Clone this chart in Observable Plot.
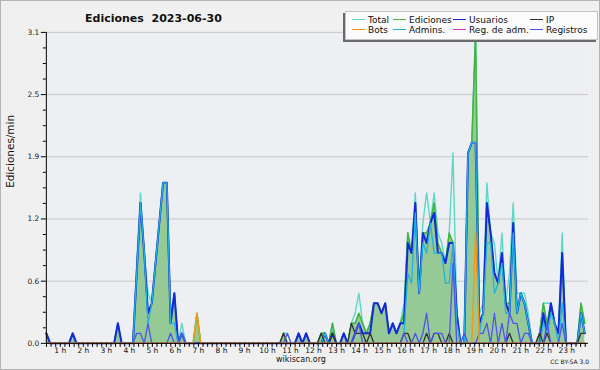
<!DOCTYPE html>
<html><head><meta charset="utf-8">
<script src="https://cdn.jsdelivr.net/npm/d3@7"></script>
<script src="https://cdn.jsdelivr.net/npm/@observablehq/plot@0.6"></script>
<style>
html,body{margin:0;padding:0;background:#f0f0f0;}
#wrap{position:relative;width:600px;height:370px;overflow:hidden;box-sizing:border-box;border:1px solid #b4b4b4;font-family:"DejaVu Sans",sans-serif;color:#111;}
#wrap svg{position:absolute;left:-1px;top:-1px;z-index:1;}
#title{position:absolute;left:84px;top:12px;font-size:11px;font-weight:bold;line-height:1;white-space:pre;z-index:2;}
#legend{position:absolute;left:344px;top:10px;width:251px;height:27px;background:#fbfbfb;border:1px solid #c4c4c4;box-shadow:-2px 2px 0 #6a6a6a;z-index:3;}
#legend .e{position:absolute;font-size:9px;line-height:10px;white-space:nowrap;}
#legend .s{display:inline-block;width:13px;height:0;border-top:1px solid;vertical-align:middle;margin-right:3px;position:relative;top:-1px;}
#site{position:absolute;left:0;width:600px;top:355px;text-align:center;font-size:8px;line-height:1;z-index:2;}
#lic{position:absolute;right:10px;top:358px;font-size:6px;line-height:1;z-index:2;}
</style></head>
<body><div id="wrap"><div id="title"></div><div id="legend"></div><div id="site">wikiscan.org</div><div id="lic">CC BY-SA 3.0</div></div>
<script>
// 10-minute bins over the day (values in edits per minute)
const binMinutes = d3.range(0, 1440, 10);
const total = [
0.1,0,0,0,0,0,0,0.1,0,0,0,0,
0,0,0,0,0,0,0,0.2,0,0,0,0,
0.8,1.5,0.9,0.5,0.4,0.8,1.2,1.6,1.6,0.3,0.5,0,
0.2,0,0,0,0.3,0,0,0,0,0,0,0,
0,0,0,0,0,0,0,0,0,0,0,0,
0,0,0,0.1,0.1,0,0,0.1,0,0.1,0,0,
0,0.1,0.1,0,0.2,0,0,0.1,0,0.2,0.3,0.5,
0.2,0.1,0.2,0.4,0.4,0.3,0.4,0.1,0.2,0.1,0.2,0.4,
1.1,0.9,1.5,0.5,1.2,1.5,1.2,1.5,1.1,1.0,0.8,1.1,
1.9,0.3,0,0.1,1.9,2.0,3.1,0.3,0.4,1.6,1.1,1.0,
0.6,1.1,0.4,0.7,1.4,0.5,0.5,0.5,0.3,0,0,0.1,
0.4,0.4,0.4,0.2,0.1,1.1,0,0,0,0,0.4,0.2];
const ediciones = [
0.1,0,0,0,0,0,0,0.1,0,0,0,0,
0,0,0,0,0,0,0,0.2,0,0,0,0,
0.7,1.4,0.9,0.3,0.4,0.8,1.2,1.6,1.6,0.2,0.5,0,
0.1,0,0,0,0.3,0,0,0,0,0,0,0,
0,0,0,0,0,0,0,0,0,0,0,0,
0,0,0,0.1,0,0,0,0.1,0,0.1,0,0,
0,0.1,0.1,0,0.2,0,0,0.1,0,0.2,0.2,0.3,
0.2,0.1,0.2,0.4,0.4,0.3,0.4,0.1,0.2,0.1,0.2,0.3,
1.1,0.9,1.4,0.5,1.1,1.1,1.2,1.4,1.0,0.9,0.8,1.1,
1.0,0.3,0,0,1.9,2.0,3.1,0.2,0.3,1.4,1.1,0.7,
0.6,0.9,0.4,0.4,1.2,0.3,0.5,0.4,0.2,0,0,0.1,
0.4,0.2,0.4,0.2,0.1,0.9,0,0,0,0,0.4,0.2];
const usuarios = [
0.1,0,0,0,0,0,0,0.1,0,0,0,0,
0,0,0,0,0,0,0,0.2,0,0,0,0,
0.7,1.4,0.9,0.3,0.4,0.8,1.2,1.6,1.6,0.2,0.5,0,
0.1,0,0,0,0,0,0,0,0,0,0,0,
0,0,0,0,0,0,0,0,0,0,0,0,
0,0,0,0,0,0,0,0.1,0,0.1,0,0,
0,0,0.1,0,0.1,0,0,0.1,0,0,0.1,0.2,
0.1,0.1,0.1,0.4,0.4,0.3,0.4,0.1,0.2,0.1,0.2,0.2,
1.0,0.9,1.4,0.5,1.1,1.0,1.2,1.3,0.9,0.9,0.8,1.0,
1.0,0.3,0,0,1.9,2.0,2.0,0.2,0.3,1.4,1.1,0.7,
0.6,0.9,0.4,0.3,1.2,0.3,0.5,0.4,0.2,0,0,0,
0.3,0.1,0.4,0.2,0.1,0.9,0,0,0,0,0.3,0.1];
const ip = [
0,0,0,0,0,0,0,0,0,0,0,0,
0,0,0,0,0,0,0,0,0,0,0,0,
0,0,0,0,0,0,0,0,0,0,0,0,
0,0,0,0,0,0,0,0,0,0,0,0,
0,0,0,0,0,0,0,0,0,0,0,0,
0,0,0,0.1,0,0,0,0,0,0,0,0,
0,0.1,0,0,0.1,0,0,0,0,0.2,0.1,0.1,
0.1,0,0.1,0,0,0,0,0,0,0,0,0.1,
0.1,0,0,0,0,0.1,0,0.1,0.1,0,0,0.1,
0,0,0,0,0,0,0,0,0,0,0,0,
0,0,0,0.1,0,0,0,0,0,0,0,0.1,
0,0.1,0,0,0,0,0,0,0,0,0.1,0.1];
const bots = [
0,0,0,0,0,0,0,0,0,0,0,0,
0,0,0,0,0,0,0,0,0,0,0,0,
0,0,0,0,0,0,0,0,0,0,0,0,
0,0,0,0,0.3,0,0,0,0,0,0,0,
0,0,0,0,0,0,0,0,0,0,0,0,
0,0,0,0,0,0,0,0,0,0,0,0,
0,0,0,0,0,0,0,0,0,0,0,0,
0,0,0,0,0,0,0,0,0,0,0,0,
0,0,0,0,0,0,0,0,0,0,0,0,
0,0,0,0,0,0,1.1,0,0,0,0,0,
0,0,0,0,0,0,0,0,0,0,0,0,
0,0,0,0,0,0,0,0,0,0,0,0];
const admins = [
0,0,0,0,0,0,0,0,0,0,0,0,
0,0,0,0,0,0,0,0,0,0,0,0,
0.7,1.4,0.9,0.2,0.4,0.8,1.2,1.6,1.6,0.2,0.2,0,
0.1,0,0,0,0,0,0,0,0,0,0,0,
0,0,0,0,0,0,0,0,0,0,0,0,
0,0,0,0,0,0,0,0,0,0,0,0,
0,0,0.1,0,0,0,0,0,0,0,0,0,
0,0,0,0,0,0,0,0,0,0,0,0.1,
0.7,0.6,1.3,0.5,1.0,0.9,1.2,0.9,0.9,0.9,0.6,0.6,
1.0,0.2,0,0,1.9,2.0,2.0,0.1,0.3,1.0,1.0,0.5,
0.6,0.8,0.3,0.3,1.1,0.3,0.5,0.4,0.2,0,0,0,
0.2,0.1,0.3,0.2,0,0.4,0,0,0,0,0.3,0.1];
const regAdm = new Array(144).fill(0);
const registros = [
0,0,0,0,0,0,0,0,0,0,0,0,
0,0,0,0,0,0,0,0,0,0,0,0,
0.1,0.1,0,0.2,0,0,0,0,0,0.1,0,0,
0.1,0,0,0,0,0,0,0,0,0,0,0,
0,0,0,0,0,0,0,0,0,0,0,0,
0,0,0,0,0.1,0,0,0,0,0,0,0,
0,0,0,0,0,0,0,0,0,0,0.1,0.2,
0,0,0,0,0,0,0,0,0,0,0,0.1,
0,0,0.1,0,0.1,0.3,0,0.1,0.1,0.1,0,0,
0.8,0,0,0.1,0,0,0,0.1,0.1,0.2,0,0.3,
0,0.2,0,0.3,0.2,0.2,0,0.1,0.1,0,0,0,
0,0.2,0,0,0,0.2,0,0,0,0,0,0];

const seriesNames = ["Total","Ediciones","Usuarios","IP","Bots","Admins.","Reg. de adm.","Registros"];
const seriesColors = ["#5cd8c6","#3fb43f","#1428dc","#333333","#f49a16","#22b2e2","#cc33cc","#5252ee"];
const hourLabels = d3.range(1, 24).map(h => h + " h");
const yMax = 3.1;
const titleText = "Ediciones  2023-06-30";
const yLabel = "Ediciones/min";

const rows = binMinutes.map((m, i) => ({
  t: m / 60, total: total[i], ed: ediciones[i], usu: usuarios[i], ip: ip[i],
  bots: bots[i], adm: admins[i], regadm: regAdm[i], reg: registros[i]
}));

// axis label placement (hour labels are spaced slightly wider than the data scale)
const labelPos = h => (h * 23.1 - 9.1) / 22.667;
const hourLabelRows = hourLabels.map((s, i) => ({x: labelPos(i + 1), s}));
const xMinor = d3.range(2, 120).map(k => labelPos(k / 5)).filter(v => v >= 0 && v <= 24);
const yMajor = d3.range(0, 6).map(k => k * yMax / 5);
const yMinor = d3.range(0, 21).map(k => k * yMax / 20).filter((v, k) => k % 4 !== 0);

const line = (key, idx, w) => Plot.lineY(rows, {x: "t", y: key, stroke: seriesColors[idx], strokeWidth: w || 1.4, curve: "linear"});

const chart = Plot.plot({
  width: 600, height: 370,
  marginLeft: 46, marginRight: 10, marginTop: 32, marginBottom: 26,
  x: {domain: [0, 24], axis: null},
  y: {domain: [0, yMax], axis: null},
  style: {background: "transparent", overflow: "visible", fontFamily: "DejaVu Sans, sans-serif", color: "#222"},
  marks: [
    Plot.frame({fill: "#edeff2", stroke: null}),
    Plot.ruleY(yMajor.slice(1), {stroke: "#c8c8c8", strokeWidth: 1}),
    Plot.areaY(rows, {x: "t", y: "ed", fill: "#95c995", curve: "linear"}),
    line("total", 0, 1.4),
    line("ed", 1, 1.5),
    line("usu", 2, 2.0),
    line("adm", 5, 1.3),
    line("ip", 3, 1.3),
    line("regadm", 6, 1.3),
    line("reg", 7, 1.3),
    line("bots", 4, 1.5),
    Plot.ruleY([0], {stroke: "#000", strokeWidth: 1}),
    Plot.ruleX([0], {y1: 0, y2: yMax, stroke: "#000", strokeWidth: 1}),
    Plot.axisY({ticks: yMajor, tickSize: 5, tickPadding: 2, tickFormat: d => d.toFixed(1), fontSize: 7.5, label: null, stroke: "#000"}),
    Plot.axisY({ticks: yMinor, tickSize: 3, tickFormat: () => "", label: null, stroke: "#000"}),
    Plot.axisX({ticks: xMinor, tickSize: 4, tickFormat: () => "", label: null, stroke: "#000"}),
    Plot.text(hourLabelRows, {x: "x", y: 0, text: "s", dy: 7, fontSize: 7.5, fill: "#111"}),
    Plot.text([yLabel], {frameAnchor: "left", rotate: -90, dx: -36, fontSize: 10.5, fill: "#111"})
  ]
});
document.getElementById("wrap").appendChild(chart);
document.getElementById("title").textContent = titleText;

const legend = document.getElementById("legend");
const colLeft = [6, 47, 107, 184];
seriesNames.forEach((name, i) => {
  const e = document.createElement("div");
  e.className = "e";
  e.style.left = colLeft[i % 4] + "px";
  e.style.top = (i < 4 ? 3 : 13) + "px";
  const s = document.createElement("span");
  s.className = "s";
  s.style.borderTopColor = seriesColors[i];
  e.appendChild(s);
  e.appendChild(document.createTextNode(name));
  legend.appendChild(e);
});
</script></body></html>
